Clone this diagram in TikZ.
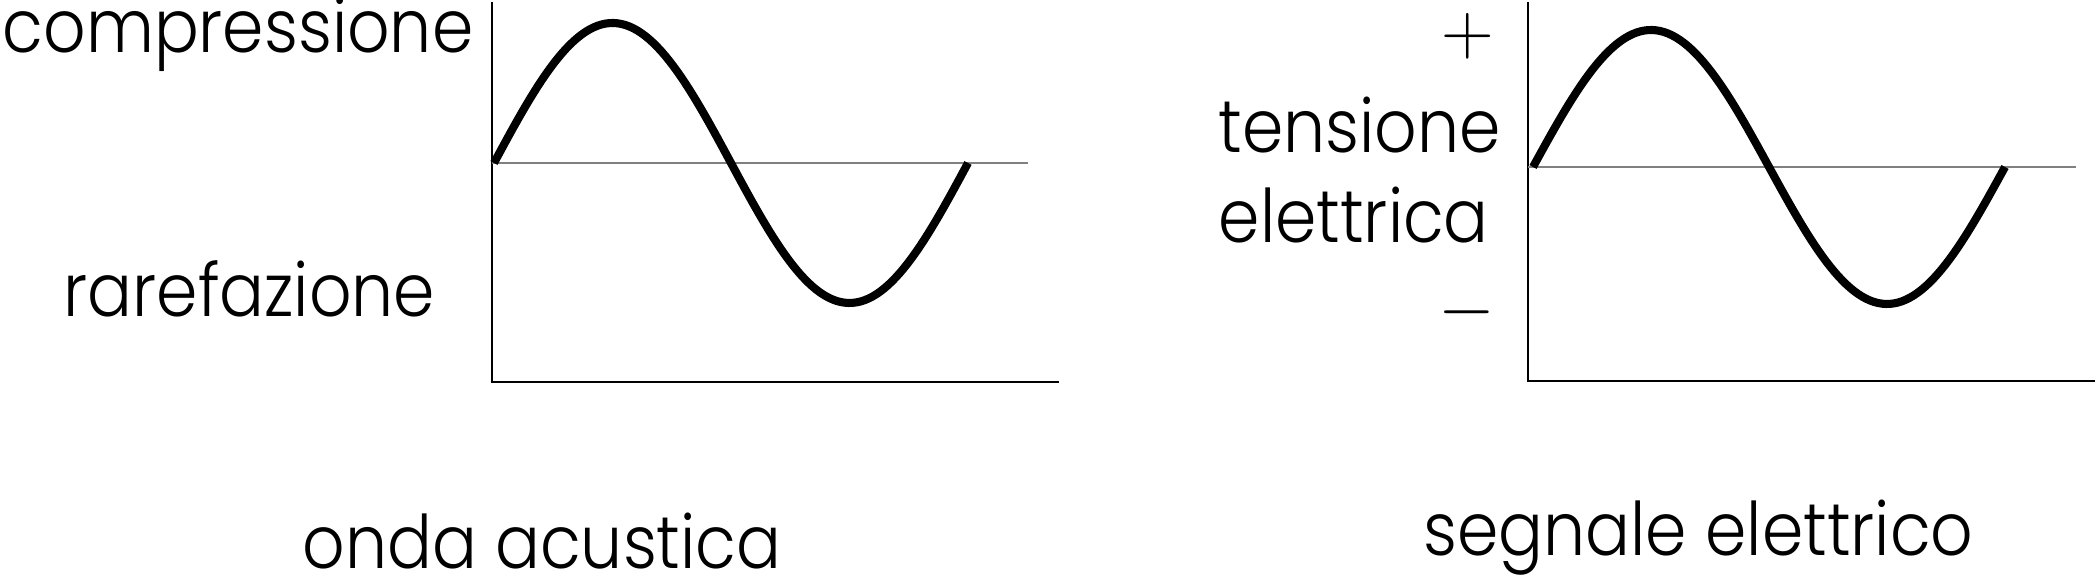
\documentclass[tikz,border=0pt]{standalone}
\usepackage{fontspec}
\setmainfont{Poppins}[UprightFont={* Light}, FakeStretch=0.9]
\usetikzlibrary{positioning}

\begin{document}
\begin{tikzpicture}[
    x=0.01cm, y=-0.01cm,
    txt/.style={anchor=base west, inner sep=0pt, font=\fontsize{21}{25}\selectfont},
    sign/.style={inner sep=0pt, font=\fontsize{20}{22}\selectfont},
    axis/.style={draw=black, line width=0.55pt},
    zero/.style={draw=gray, line width=0.45pt},
    wave/.style={draw=black, line width=2.3pt}
  ]
    \useasboundingbox (0,0) rectangle (2097,577);

    % onda acustica
    \coordinate (atop) at (492,2);
    \coordinate (aorig) at (492,382);
    \coordinate (aend) at (1059,382);
    \coordinate (azero) at (492,163);
    \coordinate (azend) at (1028,163);
    \draw[axis] (atop) -- (aorig) -- (aend);
    \draw[zero] (azero) -- (azend);
    \draw[wave] plot[domain=0:360, samples=120] ({494+\x/360*474}, {163-140*sin(\x)});

    \node[txt] (compr) at (2,53) {compressione};
    \node[txt] (raref) at (63,317) {rarefazione};
    \node[txt] (onda) at (302,569) {onda acustica};

    % segnale elettrico
    \coordinate (btop) at (1528,2);
    \coordinate (borig) at (1528,381);
    \coordinate (bend) at (2095,381);
    \coordinate (bzero) at (1528,167);
    \coordinate (bzend) at (2076,167);
    \draw[axis] (btop) -- (borig) -- (bend);
    \draw[zero] (bzero) -- (bzend);
    \draw[wave] plot[domain=0:360, samples=120] ({1533+\x/360*472}, {167-137*sin(\x)});

    \node[sign] (plus) at (1468,36) {$+$};
    \node[txt] (tens) at (1218,153) {tensione};
    \node[txt] (elet) at (1218,243) {elettrica};
    \node[sign] (minus) at (1467,312) {$-$};
    \node[txt] (segn) at (1423,556) {segnale elettrico};
  \end{tikzpicture}
\end{document}
